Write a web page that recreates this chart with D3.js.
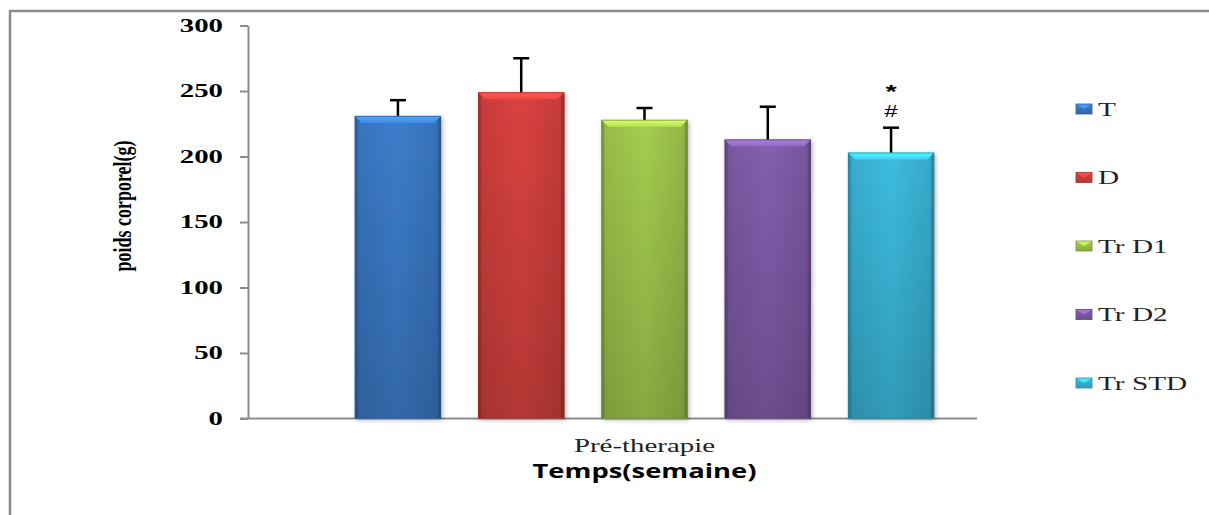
<!DOCTYPE html>
<html>
<head>
<meta charset="utf-8">
<script src="https://cdn.jsdelivr.net/npm/d3@7"></script>
<style>
  html, body { margin: 0; padding: 0; background: #fff; }
  svg { display: block; }
</style>
</head>
<body>
<svg id="chart" width="1209" height="515"></svg>
<script>
// Body weight before therapy, per group (mean ± SD)
const categories = ["Pré-therapie"];
const seriesNames = ["T", "D", "Tr D1", "Tr D2", "Tr STD"];
const means = [231, 249, 228, 213, 203];
const errors = [12, 26, 9, 25, 19];
const significance = [[], [], [], [], ["*", "#"]];
const yTicks = [0, 50, 100, 150, 200, 250, 300];

// Fill colours, one per group
const palette = ["#3b7ac6", "#d3403e", "#9fc64c", "#7f5ca8", "#3ab6d8"];

const svg = d3.select("#chart");
const defs = svg.append("defs");

const plotLeft = 248, plotRight = 977, plotTop = 25.5, plotBottom = 418.5;
const serif = "'Liberation Serif', 'Times New Roman', serif";

// Stretch text horizontally by a factor, keeping its anchor
function widen(sel, k) {
  sel.each(function () {
    const w = this.getComputedTextLength();
    this.setAttribute("textLength", w * k);
    this.setAttribute("lengthAdjust", "spacingAndGlyphs");
  });
}

// Outer frame (top and left edges)
svg.append("path")
  .attr("d", "M10,515 L10,11 L1209,11")
  .attr("fill", "none").attr("stroke", "#8c8c8c").attr("stroke-width", 2.5);

const y = d3.scaleLinear().domain([0, 300]).range([plotBottom, plotTop]);
const x0 = d3.scaleBand().domain(categories).range([312, plotRight]).padding(0);
const x1 = d3.scaleBand().domain(seriesNames).range([0, x0.bandwidth()])
  .paddingInner(0.3).paddingOuter(0.347);

// Gradients and shadow
const shadow = defs.append("filter").attr("id", "shadow")
  .attr("x", "-20%").attr("y", "-20%").attr("width", "140%").attr("height", "140%");
shadow.append("feDropShadow").attr("dx", 1.5).attr("dy", 1.5).attr("stdDeviation", 2)
  .attr("flood-color", "#000").attr("flood-opacity", 0.3);

const side = defs.append("linearGradient").attr("id", "side")
  .attr("x1", "0").attr("x2", "1").attr("y1", "0").attr("y2", "0");
[[0, 0.35], [0.05, 0.08], [0.5, 0], [0.95, 0.1], [1, 0.4]].forEach(([o, a]) =>
  side.append("stop").attr("offset", o).attr("stop-color", "#000").attr("stop-opacity", a));

palette.forEach((c, i) => {
  const g = defs.append("linearGradient").attr("id", "fill" + i)
    .attr("x1", "0").attr("x2", "0").attr("y1", "0").attr("y2", "1");
  g.append("stop").attr("offset", 0).attr("stop-color", d3.color(c).brighter(0.1));
  g.append("stop").attr("offset", 1).attr("stop-color", d3.color(c).darker(0.45));
  const t = defs.append("linearGradient").attr("id", "top" + i)
    .attr("x1", "0").attr("x2", "0").attr("y1", "0").attr("y2", "1");
  t.append("stop").attr("offset", 0).attr("stop-color", d3.color(c).brighter(0.9));
  t.append("stop").attr("offset", 1).attr("stop-color", d3.color(c).brighter(0.35));
});

// Axes
const yAxis = svg.append("g")
  .attr("transform", `translate(${plotLeft},0)`)
  .call(d3.axisLeft(y).tickValues(yTicks).tickSize(8).tickPadding(17).tickSizeOuter(0));
yAxis.select(".domain").attr("stroke", "#8c8c8c").attr("stroke-width", 2);
yAxis.selectAll(".tick line").attr("stroke", "#8c8c8c").attr("stroke-width", 2);
yAxis.selectAll(".tick text")
  .attr("font-family", serif)
  .attr("font-weight", "bold").attr("font-size", 18).attr("fill", "#000");
widen(yAxis.selectAll(".tick text"), 1.6);

svg.append("line")
  .attr("x1", plotLeft - 8).attr("x2", plotRight)
  .attr("y1", y(0)).attr("y2", y(0))
  .attr("stroke", "#8c8c8c").attr("stroke-width", 2);

// Bars
const bev = 7;
const group = svg.append("g").selectAll("g.cat").data(categories).join("g")
  .attr("transform", d => `translate(${x0(d)},0)`);

const bars = group.selectAll("g.bar")
  .data(seriesNames.map((s, i) => ({ s, i, v: means[i], e: errors[i], sig: significance[i] })))
  .join("g").attr("class", "bar");

bars.each(function (d) {
  const g = d3.select(this);
  const bx = x1(d.s), bw = x1.bandwidth(), by = y(d.v), bh = y(0) - y(d.v);
  g.append("rect").attr("x", bx).attr("y", by).attr("width", bw).attr("height", bh)
    .attr("fill", `url(#fill${d.i})`).attr("filter", "url(#shadow)");
  g.append("rect").attr("x", bx).attr("y", by).attr("width", bw).attr("height", bh)
    .attr("fill", "url(#side)");
  g.append("path")
    .attr("d", `M${bx},${by} L${bx + bw},${by} L${bx + bw - bev},${by + bev} L${bx + bev},${by + bev} Z`)
    .attr("fill", `url(#top${d.i})`);
  g.append("rect").attr("x", bx + 0.5).attr("y", by + 0.5).attr("width", bw - 1).attr("height", bh - 1)
    .attr("fill", "none").attr("stroke", d3.color(palette[d.i]).darker(0.8)).attr("stroke-width", 1)
    .attr("stroke-opacity", 0.7);

  // Error bar (upper only)
  const cx = bx + bw / 2, ey = y(d.v + d.e);
  g.append("line").attr("x1", cx).attr("x2", cx).attr("y1", by).attr("y2", ey)
    .attr("stroke", "#000").attr("stroke-width", 2.5);
  g.append("line").attr("x1", cx - 8).attr("x2", cx + 8).attr("y1", ey).attr("y2", ey)
    .attr("stroke", "#000").attr("stroke-width", 2.5);

  // Significance marks stacked above the error bar (lowest mark first)
  let base = ey - 11;
  d.sig.slice().reverse().forEach(m => {
    const star = m === "*";
    const fs = star ? 18 : 16;
    const t = g.append("text").attr("x", cx).attr("y", base)
      .attr("text-anchor", "middle")
      .attr("font-family", "'Liberation Sans', Arial, sans-serif")
      .attr("font-weight", star ? "bold" : "normal")
      .attr("font-size", fs).attr("fill", "#000").text(m);
    widen(t, star ? 1.6 : 1.5);
    const bb = t.node().getBBox();
    base = bb.y - 0.5 - 0.212 * 18;
  });
});

// Category label and axis titles
const catLabel = svg.append("g").selectAll("text").data(categories).join("text")
  .attr("x", d => x0(d) + x0.bandwidth() / 2).attr("y", 452)
  .attr("text-anchor", "middle")
  .attr("font-family", serif)
  .attr("font-size", 19.5).attr("fill", "#222").text(d => d);
widen(catLabel, 1.48);

svg.append("text")
  .attr("x", x0(categories[0]) + x0.bandwidth() / 2).attr("y", 478)
  .attr("text-anchor", "middle")
  .attr("font-family", "'Open Sans', 'Noto Sans', sans-serif")
  .attr("font-weight", "bold").attr("font-size", 20).attr("fill", "#000")
  .attr("textLength", 224).attr("lengthAdjust", "spacingAndGlyphs")
  .text("Temps(semaine)");

svg.append("text")
  .attr("transform", "translate(131,206) scale(1.35,1) rotate(-90)")
  .attr("text-anchor", "middle")
  .attr("font-family", serif)
  .attr("font-weight", "bold").attr("font-size", 18).attr("fill", "#000")
  .text("poids corporel(g)");

// Legend
const legend = svg.append("g").selectAll("g").data(seriesNames).join("g")
  .attr("transform", (d, i) => `translate(1076,${109 + i * 68.5})`);
legend.append("rect").attr("x", 0).attr("y", -5).attr("width", 16).attr("height", 10)
  .attr("fill", (d, i) => `url(#fill${i})`)
  .attr("stroke", (d, i) => d3.color(palette[i]).darker(0.8)).attr("stroke-width", 0.8);
legend.append("path").attr("d", "M0.5,-4.5 L15.5,-4.5 L8,0 Z")
  .attr("fill", (d, i) => d3.color(palette[i]).brighter(0.8)).attr("opacity", 0.8);
const legText = legend.append("text").attr("x", 22).attr("y", 6.5)
  .attr("font-family", serif)
  .attr("font-size", 19.5).attr("fill", "#222").text(d => d);
widen(legText, 1.5);
</script>
</body>
</html>
